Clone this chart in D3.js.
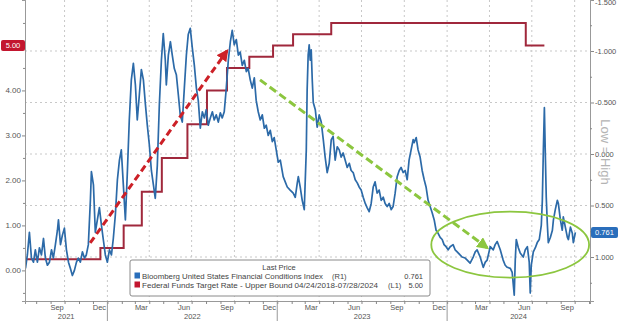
<html>
<head>
<script src="https://d3js.org/d3.v7.min.js"></script>
<style>
  body { margin: 0; background: #fff; }
  svg text { font-family: "Liberation Sans", Arial, sans-serif; fill: #555; }
</style>
</head>
<body>
<script>
// Bloomberg US Financial Conditions Index (R1, inverted axis) - [decimal year, value]
var fci2021 = [[2021.518,1.11],[2021.529,0.98],[2021.541,0.76],[2021.553,1.01],[2021.565,1.05],[2021.576,0.93],[2021.588,1.05],[2021.600,0.91],[2021.612,0.98],[2021.624,0.82],
  [2021.635,1.01],[2021.647,1.08],[2021.659,1.05],[2021.671,0.93],[2021.682,1.01],[2021.694,0.88],[2021.706,0.74],[2021.712,0.64],[2021.724,0.88],[2021.735,0.79],
  [2021.747,0.72],[2021.759,0.93],[2021.771,1.05],[2021.782,1.11],[2021.794,1.18],[2021.806,1.13],[2021.818,1.05],[2021.829,1.01],[2021.841,1.05],[2021.853,0.95],
  [2021.865,1.01],[2021.876,0.98],[2021.888,0.88],[2021.900,0.45],[2021.906,0.17],[2021.918,0.30],[2021.929,0.76],[2021.941,0.64],[2021.953,0.52],[2021.965,0.69],
  [2021.976,0.83],[2021.988,0.98]];
var fci2022 = [[2022.000,1.05],[2022.012,0.93],[2022.024,0.98],[2022.035,0.82],[2022.047,0.59],[2022.059,0.25],[2022.071,0.06],[2022.082,-0.04],[2022.094,0.30],[2022.106,0.64],
  [2022.118,0.16],[2022.129,-0.33],[2022.141,-0.72],[2022.153,-0.88],[2022.165,-0.67],[2022.176,-0.33],[2022.188,-0.57],[2022.200,-0.82],[2022.212,-0.72],[2022.224,-0.48],
  [2022.235,-0.28],[2022.247,-0.09],[2022.259,0.16],[2022.271,0.30],[2022.282,0.43],[2022.294,0.11],[2022.306,-0.48],[2022.318,-0.91],[2022.329,-1.17],[2022.341,-0.91],
  [2022.347,-0.67],[2022.359,-0.96],[2022.371,-1.09],[2022.382,-0.96],[2022.394,-0.83],[2022.406,-0.77],[2022.418,-0.57],[2022.429,-0.38],[2022.441,-0.31],[2022.453,-0.64],
  [2022.465,-0.96],[2022.476,-1.16],[2022.488,-1.22],[2022.500,-1.03],[2022.512,-0.86],[2022.524,-0.64],[2022.535,-0.52],[2022.547,-0.25],[2022.559,-0.41],[2022.571,-0.35],
  [2022.582,-0.43],[2022.594,-0.28],[2022.606,-0.35],[2022.618,-0.41],[2022.629,-0.33],[2022.641,-0.38],[2022.653,-0.31],[2022.665,-0.40],[2022.676,-0.35],[2022.688,-0.41],
  [2022.700,-0.64],[2022.712,-0.91],[2022.724,-1.09],[2022.735,-1.20],[2022.747,-1.06],[2022.759,-1.11],[2022.771,-0.96],[2022.782,-0.99],[2022.794,-0.86],[2022.806,-0.91],
  [2022.818,-0.80],[2022.829,-0.83],[2022.841,-0.72],[2022.853,-0.64],[2022.865,-0.74],[2022.876,-0.52],[2022.888,-0.41],[2022.900,-0.33],[2022.912,-0.38],[2022.924,-0.25],
  [2022.935,-0.28],[2022.947,-0.18],[2022.959,-0.23],[2022.971,-0.12],[2022.982,-0.16],[2022.994,-0.04]];
var fci2023 = [[2023.006,0.08],[2023.018,0.06],[2023.035,0.22],[2023.047,0.27],[2023.059,0.32],[2023.076,0.35],[2023.094,0.38],[2023.106,0.42],[2023.118,0.28],[2023.124,0.22],
  [2023.135,0.32],[2023.147,0.45],[2023.159,0.54],[2023.171,-0.04],[2023.176,-0.62],[2023.182,-0.96],[2023.188,-1.06],[2023.194,-0.91],[2023.200,-1.01],[2023.206,-0.72],
  [2023.212,-0.50],[2023.224,-0.43],[2023.235,-0.26],[2023.247,-0.38],[2023.259,-0.31],[2023.271,-0.14],[2023.282,0.03],[2023.294,0.18],[2023.306,0.09],[2023.318,-0.14],
  [2023.329,-0.17],[2023.341,0.06],[2023.353,-0.07],[2023.365,-0.04],[2023.376,0.03],[2023.388,-0.01],[2023.400,0.06],[2023.412,0.13],[2023.424,0.09],[2023.435,0.16],
  [2023.447,0.18],[2023.459,0.25],[2023.471,0.28],[2023.482,0.32],[2023.494,0.35],[2023.506,0.42],[2023.518,0.48],[2023.529,0.52],[2023.541,0.56],[2023.553,0.48],
  [2023.565,0.32],[2023.576,0.27],[2023.588,0.38],[2023.600,0.35],[2023.612,0.45],[2023.624,0.42],[2023.635,0.48],[2023.647,0.51],[2023.659,0.48],[2023.671,0.54],
  [2023.682,0.51],[2023.694,0.38],[2023.706,0.22],[2023.718,0.16],[2023.729,0.13],[2023.741,0.18],[2023.753,0.16],[2023.765,0.25],[2023.776,0.06],[2023.788,-0.04],
  [2023.800,-0.14],[2023.806,-0.11],[2023.818,-0.16],[2023.829,-0.04],[2023.841,0.03],[2023.853,0.16],[2023.865,0.25],[2023.876,0.32],[2023.888,0.45],[2023.900,0.51],
  [2023.912,0.57],[2023.924,0.64],[2023.935,0.74],[2023.947,0.77],[2023.959,0.81],[2023.971,0.83],[2023.982,0.88],[2023.994,0.90]];
var fci2024 = [[2024.006,0.93],[2024.018,0.90],[2024.035,0.88],[2024.047,0.93],[2024.059,0.95],[2024.076,0.98],[2024.088,1.00],[2024.106,1.01],[2024.118,1.03],[2024.135,1.06],
  [2024.153,1.00],[2024.165,0.95],[2024.176,0.93],[2024.194,1.00],[2024.212,1.10],[2024.224,1.05],[2024.235,1.03],[2024.253,0.90],[2024.271,0.93],[2024.282,0.88],
  [2024.294,0.85],[2024.312,0.93],[2024.329,1.03],[2024.341,1.08],[2024.353,1.10],[2024.371,1.11],[2024.382,1.15],[2024.394,1.37],[2024.400,1.03],[2024.406,0.83],
  [2024.418,0.91],[2024.429,0.96],[2024.447,1.00],[2024.459,0.93],[2024.471,0.90],[2024.482,1.05],[2024.488,1.35],[2024.494,1.08],[2024.506,0.95],[2024.518,0.91],
  [2024.529,0.86],[2024.541,0.83],[2024.553,0.69],[2024.559,0.45],[2024.565,-0.04],[2024.571,-0.45],[2024.576,-0.04],[2024.582,0.42],[2024.588,0.67],[2024.594,0.86],
  [2024.606,0.81],[2024.618,0.74],[2024.624,0.64],[2024.635,0.54],[2024.647,0.45],[2024.653,0.48],[2024.665,0.64],[2024.676,0.74],[2024.682,0.61],[2024.694,0.71],
  [2024.706,0.81],[2024.712,0.83],[2024.724,0.71],[2024.735,0.77],[2024.741,0.86],[2024.753,0.761]];

// Fed funds target upper bound (L1), step dates as plotted
var fedDates = ["2021-07-08","2021-12-17","2022-02-05","2022-03-16","2022-04-28","2022-06-22","2022-08-03",
  "2022-09-15","2022-11-02","2022-12-23","2023-02-04","2023-04-27","2024-06-18","2024-07-28"];
var fedRate = [0.25, 0.50, 1.00, 1.75, 2.50, 3.25, 4.00, 4.50, 4.75, 5.00, 5.25, 5.50, 5.00, 5.00];

var leftTicks = [0, 1, 2, 3, 4];
var leftMinor = [-0.5, 0.5, 1.5, 2.5, 3.5, 4.5, 5.5];
var rightTicks = [-1.5, -1, -0.5, 0, 0.5, 1];
var rightMinor = [-1.25, -0.75, -0.25, 0.25, 0.75, 1.25];
var monthNames = {2: "Mar", 5: "Jun", 8: "Sep", 11: "Dec"};
var lastFci = 0.761, lastFed = 5.00;

var width = 620, height = 321;
var plotL = 25, plotR = 590, plotT = 0, plotB = 301; // plot area edges

function toDate(t) { // decimal year -> Date
  var y = Math.floor(t), a = new Date(y, 0, 1), b = new Date(y + 1, 0, 1);
  return new Date(+a + (t - y) * (b - a));
}
var parse = d3.timeParse("%Y-%m-%d");

var fci = fci2021.concat(fci2022, fci2023, fci2024).map(function(d) { return {date: toDate(d[0]), value: d[1]}; });
var fed = fedDates.map(function(d, i) { return {date: parse(d), value: fedRate[i]}; });

var start = new Date(2021, 6, 8), end = new Date(2024, 10, 3);
var x = d3.scaleTime().domain([start, end]).range([plotL, plotR]);
var yL = d3.scaleLinear().domain([-0.68, 6.01]).range([plotB, plotT]);
var yR = d3.scaleLinear().domain([-1.495, 1.427]).range([plotT, plotB]); // inverted

var svg = d3.select("body").append("svg").attr("width", width).attr("height", height);

svg.append("defs").append("clipPath").attr("id", "plot")
  .append("rect").attr("x", plotL).attr("y", plotT).attr("width", plotR - plotL).attr("height", plotB - plotT);

// dotted grid: right axis majors + quarter starts
svg.append("g").selectAll("line").data(rightTicks.slice(1)).enter().append("line")
  .attr("x1", plotL).attr("x2", plotR).attr("y1", function(d) { return yR(d); }).attr("y2", function(d) { return yR(d); })
  .attr("stroke", "#c8c8c8").attr("stroke-dasharray", "2,3");
svg.append("g").selectAll("line").data(d3.timeMonth.every(3).range(start, end)).enter().append("line")
  .attr("x1", function(d) { return x(d); }).attr("x2", function(d) { return x(d); }).attr("y1", plotT).attr("y2", plotB)
  .attr("stroke", "#c8c8c8").attr("stroke-dasharray", "2,3");

var plot = svg.append("g").attr("clip-path", "url(#plot)");

plot.append("path").datum(fed)
  .attr("fill", "none").attr("stroke", "#a0283c").attr("stroke-width", 2)
  .attr("d", d3.line().curve(d3.curveStepAfter).x(function(d) { return x(d.date); }).y(function(d) { return yL(d.value); }));

plot.append("path").datum(fci)
  .attr("fill", "none").attr("stroke", "#2c6aa8").attr("stroke-width", 1.7).attr("stroke-linejoin", "round")
  .attr("d", d3.line().x(function(d) { return x(d.date); }).y(function(d) { return yR(d.value); }));

// axes
var axL = svg.append("g").attr("transform", "translate(" + plotL + ",0)")
  .call(d3.axisLeft(yL).tickValues(leftTicks).tickSize(3).tickFormat(function(d) { return d.toFixed(2); }));
svg.append("g").attr("transform", "translate(" + plotL + ",0)")
  .call(d3.axisLeft(yL).tickValues(leftMinor).tickSize(2).tickFormat(""));
var axR = svg.append("g").attr("transform", "translate(" + plotR + ",0)")
  .call(d3.axisRight(yR).tickValues(rightTicks).tickSize(4).tickFormat(function(d) { return d.toFixed(3); }));
svg.append("g").attr("transform", "translate(" + plotR + ",0)")
  .call(d3.axisRight(yR).tickValues(rightMinor).tickSize(2).tickFormat(""));
svg.append("g").attr("transform", "translate(0," + plotB + ")")
  .call(d3.axisBottom(x).ticks(d3.timeMonth.every(1)).tickSize(3).tickFormat(""));

svg.selectAll(".domain").attr("stroke", "#999");
svg.selectAll(".tick line").attr("stroke", "#888");
axL.selectAll("text").attr("font-size", 8).attr("x", -4);
axR.selectAll("text").attr("font-size", 7.5).attr("x", 5);
axR.selectAll(".tick").filter(function(d) { return d === -1.5; }).select("text").attr("dy", "0.7em");

// month labels at mid-month, year labels and separators
var labelMonths = d3.timeMonth.range(start, end).filter(function(d) { return monthNames[d.getMonth()]; });
svg.append("g").selectAll("text").data(labelMonths).enter().append("text")
  .attr("x", function(d) { return x(new Date(d.getFullYear(), d.getMonth(), 15)); }).attr("y", 310)
  .attr("text-anchor", "middle").attr("font-size", 7.5)
  .text(function(d) { return monthNames[d.getMonth()]; });

var yearStarts = d3.timeYear.range(start, end);
svg.append("g").selectAll("line").data(yearStarts).enter().append("line")
  .attr("x1", function(d) { return x(d); }).attr("x2", function(d) { return x(d); })
  .attr("y1", plotB).attr("y2", height).attr("stroke", "#999");
var yearBounds = [start].concat(yearStarts, [end]);
svg.append("g").selectAll("text").data(d3.pairs(yearBounds)).enter().append("text")
  .attr("x", function(d) { return (x(d[0]) + x(d[1])) / 2; }).attr("y", 319)
  .attr("text-anchor", "middle").attr("font-size", 7.5)
  .text(function(d) { return d[0].getFullYear(); });

// last price tags
svg.append("rect").attr("x", 1).attr("y", yL(lastFed) - 5.5).attr("width", 24).attr("height", 11).attr("rx", 2).attr("fill", "#c3162f");
svg.append("text").attr("x", 13).attr("y", yL(lastFed) + 2.7).attr("text-anchor", "middle").attr("font-size", 7.5)
  .style("fill", "#fff").text(lastFed.toFixed(2));
svg.append("rect").attr("x", 591).attr("y", yR(lastFci) - 5.5).attr("width", 27).attr("height", 11).attr("rx", 2).attr("fill", "#2a6ebb");
svg.append("text").attr("x", 604.5).attr("y", yR(lastFci) + 2.7).attr("text-anchor", "middle").attr("font-size", 7.5)
  .style("fill", "#fff").text(lastFci.toFixed(3));

// "Low = High" side note
svg.append("text").attr("transform", "translate(601,152) rotate(90)").attr("text-anchor", "middle")
  .attr("font-size", 13).style("fill", "#b4b4b4").text("Low = High");

// annotations: dashed arrows and ellipse
var defs = svg.select("defs");
function marker(id, color) {
  defs.append("marker").attr("id", id).attr("viewBox", "0 0 10 10").attr("refX", 8).attr("refY", 5)
    .attr("markerWidth", 4).attr("markerHeight", 4).attr("orient", "auto")
    .append("path").attr("d", "M0,0L10,5L0,10z").attr("fill", color);
}
marker("redHead", "#cc2027");
marker("greenHead", "#8cc63f");

svg.append("line")
  .attr("x1", x(parse("2021-11-25"))).attr("y1", yL(0.61)).attr("x2", x(parse("2022-09-15"))).attr("y2", yL(4.88))
  .attr("stroke", "#cc2027").attr("stroke-width", 3).attr("stroke-dasharray", "7,4").attr("marker-end", "url(#redHead)");
svg.append("line")
  .attr("x1", x(parse("2022-11-25"))).attr("y1", yR(-0.72)).attr("x2", x(parse("2024-03-27"))).attr("y2", yR(0.91))
  .attr("stroke", "#8cc63f").attr("stroke-width", 3).attr("stroke-dasharray", "8,4").attr("marker-end", "url(#greenHead)");

var ex0 = x(parse("2023-11-28")), ex1 = x(parse("2024-11-01")), ey0 = yR(0.56), ey1 = yR(1.20);
svg.append("ellipse").attr("cx", (ex0 + ex1) / 2).attr("cy", (ey0 + ey1) / 2)
  .attr("rx", (ex1 - ex0) / 2).attr("ry", (ey1 - ey0) / 2)
  .attr("fill", "none").attr("stroke", "#8cc63f").attr("stroke-width", 1.8);

// legend
var lg = svg.append("g");
lg.append("rect").attr("x", 130).attr("y", 260).attr("width", 300).attr("height", 36).attr("rx", 2)
  .attr("fill", "#fff").attr("stroke", "#8a8a8a");
lg.append("text").attr("x", 279).attr("y", 270).attr("text-anchor", "middle").attr("font-size", 7.5).style("fill", "#444").text("Last Price");
var rows = [
  {color: "#2a6ebb", name: "Bloomberg United States Financial Conditions Index", tag: "(R1)", tagX: 332, len: 181, val: lastFci.toFixed(3)},
  {color: "#c3162f", name: "Federal Funds Target Rate - Upper Bound 04/24/2018-07/28/2024", tag: "(L1)", tagX: 388, len: 236, val: lastFed.toFixed(2)}
];
rows.forEach(function(r, i) {
  var yy = 278.5 + i * 9;
  lg.append("rect").attr("x", 134.5).attr("y", yy - 6).attr("width", 5.5).attr("height", 6).attr("fill", r.color);
  lg.append("text").attr("x", 142).attr("y", yy).attr("font-size", 7.5).attr("textLength", r.len)
    .attr("lengthAdjust", "spacingAndGlyphs").style("fill", "#444").text(r.name);
  lg.append("text").attr("x", r.tagX).attr("y", yy).attr("font-size", 7.5).style("fill", "#444").text(r.tag);
  lg.append("text").attr("x", 423).attr("y", yy).attr("text-anchor", "end").attr("font-size", 7.5).style("fill", "#444").text(r.val);
});
</script>
</body>
</html>
